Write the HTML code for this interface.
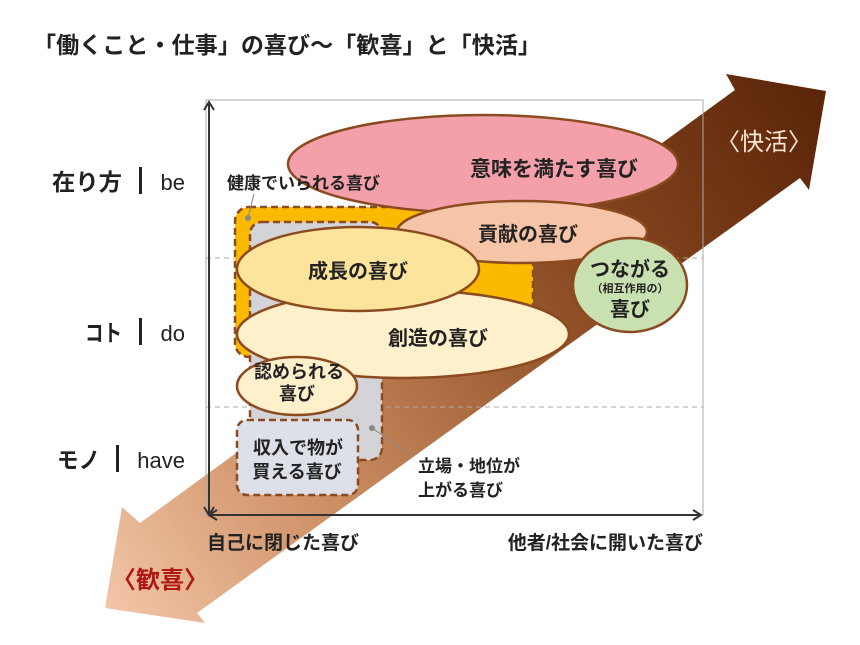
<!DOCTYPE html>
<html><head><meta charset="utf-8"><style>
body{margin:0;background:#fff;}
svg{display:block;font-family:"Liberation Sans","Noto Sans CJK JP",sans-serif;}
</style></head><body>
<svg width="860" height="645" viewBox="0 0 860 645" xmlns="http://www.w3.org/2000/svg">
<defs>
<linearGradient id="ag" x1="105" y1="610" x2="826" y2="91" gradientUnits="userSpaceOnUse">
<stop offset="0" stop-color="#f3c6a8"/>
<stop offset="0.3" stop-color="#c98a5e"/>
<stop offset="0.65" stop-color="#8a4a22"/>
<stop offset="1" stop-color="#5a2408"/>
</linearGradient>
</defs>
<text x="33" y="53" font-size="23" font-weight="bold" fill="#222" textLength="508" lengthAdjust="spacingAndGlyphs">「働くこと・仕事」の喜び～「歓喜」と「快活」</text>
<!-- big arrow -->
<polygon points="726,74 826,91 809,190 800,178 197,613 205,623 105,608 122,507 140,523 735,90" fill="url(#ag)"/>
<text x="716" y="150" font-size="24" fill="#fbe6d4">〈快活〉</text>
<text x="112" y="588" font-size="24" font-weight="bold" fill="#b01818">〈歓喜〉</text>
<!-- frame -->
<rect x="206" y="100" width="497" height="415" fill="none" stroke="#aaa" stroke-width="1"/>
<line x1="206" y1="258" x2="703" y2="258" stroke="#aaa" stroke-dasharray="5,4"/>
<line x1="206" y1="407" x2="703" y2="407" stroke="#aaa" stroke-dasharray="5,4"/>
<g stroke="#333" stroke-width="2" fill="none">
<line x1="209" y1="515" x2="209" y2="102"/>
<polyline points="204,110 209,102 214,110"/>
<line x1="209" y1="515" x2="701" y2="515"/>
<polyline points="693,510 701,515 693,520"/>
<polyline points="217,510 209,515 217,520"/>
<polyline points="204,507 209,515 214,507"/>
</g>
<!-- rects -->
<rect x="235" y="207" width="298" height="150" rx="14" fill="#fbb900" stroke="#8b4a20" stroke-width="2.5" stroke-dasharray="7,4"/>
<rect x="250" y="222" width="132" height="238" rx="12" fill="#d4d4d8" stroke="#8b4a20" stroke-width="2.5" stroke-dasharray="7,4"/>
<!-- ellipses -->
<g stroke="#8b4a20" stroke-width="2.5">
<ellipse cx="483" cy="164" rx="195" ry="49" fill="#f4a0aa"/>
<ellipse cx="522" cy="232" rx="125" ry="31" fill="#f6c4a6"/>
<ellipse cx="403" cy="334" rx="166" ry="44" fill="#fff0cc"/>
<ellipse cx="358" cy="269" rx="121" ry="42" fill="#fde49c"/>
<ellipse cx="297" cy="386" rx="60" ry="29" fill="#fff0cc"/>
<ellipse cx="630" cy="285" rx="57" ry="47" fill="#c9e0b0"/>
</g>
<rect x="237" y="420" width="121" height="75" rx="10" fill="#dde0e8" stroke="#8b4a20" stroke-width="2.5" stroke-dasharray="7,4"/>
<!-- leaders -->
<line x1="248" y1="218" x2="254" y2="194" stroke="#888" stroke-width="1"/>
<circle cx="248" cy="218" r="3" fill="#888"/>
<line x1="372" y1="428" x2="412" y2="456" stroke="#888" stroke-width="1"/>
<circle cx="372" cy="428" r="3" fill="#888"/>
<!-- texts -->
<g font-weight="bold" fill="#222" text-anchor="middle">
<text x="554" y="176" font-size="21">意味を満たす喜び</text>
<text x="528" y="241" font-size="20">貢献の喜び</text>
<text x="358" y="278" font-size="20">成長の喜び</text>
<text x="438" y="345" font-size="20">創造の喜び</text>
<text x="299" y="378" font-size="18">認められる</text>
<text x="297" y="400" font-size="18">喜び</text>
<text x="298" y="454" font-size="18">収入で物が</text>
<text x="297" y="478" font-size="18">買える喜び</text>
<text x="630" y="276" font-size="20">つながる</text>
<text x="630" y="292" font-size="11">（相互作用の）</text>
<text x="630" y="316" font-size="20">喜び</text>
</g>
<text x="227" y="189" font-size="17" font-weight="bold" fill="#222">健康でいられる喜び</text>
<text x="418" y="472" font-size="17" font-weight="bold" fill="#222">立場・地位が</text>
<text x="418" y="496" font-size="17" font-weight="bold" fill="#222">上がる喜び</text>
<g font-size="22" fill="#222">
<text x="52" y="190" font-weight="bold" font-size="23" textLength="70" lengthAdjust="spacingAndGlyphs">在り方</text><rect x="139" y="167" width="3" height="27" fill="#222"/><text x="185" y="190" text-anchor="end">be</text>
<text x="85" y="341" font-weight="bold" font-size="23" textLength="37" lengthAdjust="spacingAndGlyphs">コト</text><rect x="139" y="318" width="3" height="27" fill="#222"/><text x="185" y="341" text-anchor="end">do</text>
<text x="57" y="468" font-weight="bold" font-size="23" textLength="43" lengthAdjust="spacingAndGlyphs">モノ</text><rect x="116" y="445" width="3" height="27" fill="#222"/><text x="185" y="468" text-anchor="end">have</text>
</g>
<text x="207" y="549" font-size="19" font-weight="bold" fill="#222">自己に閉じた喜び</text>
<text x="703" y="549" font-size="19" font-weight="bold" fill="#222" text-anchor="end">他者/社会に開いた喜び</text>
</svg>
</body></html>
